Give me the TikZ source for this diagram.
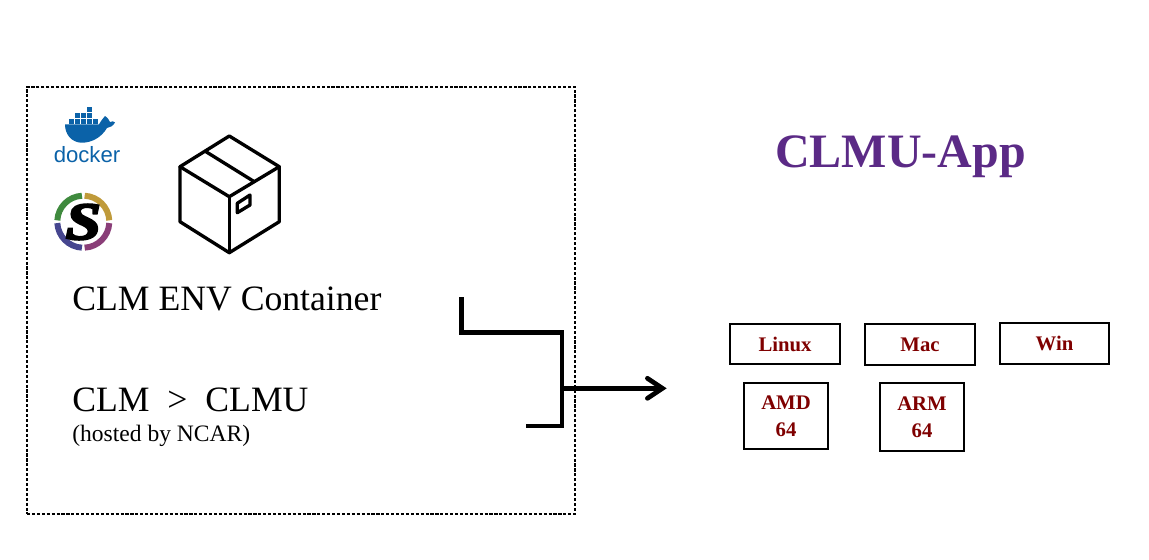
\documentclass[tikz,border=0pt]{standalone}
\usepackage{fontspec}
\setmainfont{Liberation Serif}
\newfontfamily\logofont{Liberation Sans}
\newfontfamily\logoheavy[FakeBold=4]{Liberation Serif}
\usetikzlibrary{arrows.meta}
\definecolor{appPurple}{HTML}{5B2A86}
\definecolor{boxRed}{HTML}{7F0000}
\definecolor{dockerBlue}{HTML}{0B62A8}
\definecolor{ringGreen}{HTML}{3F8A3E}
\definecolor{ringGold}{HTML}{BF9A3A}
\definecolor{ringPlum}{HTML}{8A3E78}
\definecolor{ringBlue}{HTML}{46468F}
\tikzset{
	osbox/.style={draw=black, line width=1.3pt, inner sep=0pt, align=center, text=boxRed, font=\fontsize{11.8}{15.5}\selectfont\bfseries},
	envtext/.style={anchor=base west, inner sep=0pt, font=\fontsize{20.3}{24}\selectfont},
	bracket/.style={line width=2.7pt, line join=miter},
	boxline/.style={line width=1.9pt, line join=round, line cap=round},
}
\begin{document}
\begin{tikzpicture}[x=0.02cm, y=-0.02cm]
	\useasboundingbox (0,0) rectangle (1149,559);
	% environment frame
	\node[draw=black, line width=0.75pt, dash pattern=on 1.8pt off 1pt, minimum width=10.96cm, minimum height=8.54cm, inner sep=0pt] (envframe) at (301,300.5) {};
	% docker logo
	\fill[dockerBlue] (65,124.3)--(99,124.3) .. controls (101,121) and (103,118) .. (105,116) .. controls (108,118) and (109,120) .. (110,122) .. controls (112,121) and (114,121) .. (115,122.5) .. controls (113,126) and (110,127.5) .. (107,128) .. controls (101,138) and (91,143) .. (81,142.7) .. controls (71,142) and (65,134) .. (65,124.3)--cycle;
	\foreach \x in {0,...,4}
		\fill[dockerBlue] (69+5.9*\x,118.5) rectangle ++(5,5);
	\foreach \x in {1,2,3}
		\fill[dockerBlue] (69+5.9*\x,112.6) rectangle ++(5,5);
	\fill[dockerBlue] (69+5.9*3,106.7) rectangle ++(5,5);
	\node[anchor=base, inner sep=0pt, text=dockerBlue, font=\logofont\fontsize{12.6}{14}\selectfont] (dockerlabel) at (87,162.7) {docker};
	% singularity logo
	\coordinate (singularity) at (83.3,221.7);
	\begin{scope}[line width=3.4pt]
		\draw[color=ringGreen] (singularity) ++(-93:26) arc (-93:-177:26);
		\draw[color=ringGold] (singularity) ++(-87:26) arc (-87:-3:26);
		\draw[color=ringPlum] (singularity) ++(3:26) arc (3:87:26);
		\draw[color=ringBlue] (singularity) ++(93:26) arc (93:177:26);
	\end{scope}
	\node[inner sep=0pt, font=\logoheavy\fontsize{30}{30}\selectfont\bfseries\itshape, xscale=1.2] (singularityS) at (83.3,222) {S};
	% package icon
	\draw[boxline] (229.3,136)--(180,166.7)--(229.3,196.7)--(279.3,166.7)--cycle;
	\draw[boxline] (180,166.7)--(180,221.7)--(229.3,252.7)--(279.3,221.7)--(279.3,166.7);
	\draw[boxline] (229.3,196.7)--(229.3,252.7);
	\draw[boxline] (206,151.7)--(254,181.5);
	\draw[boxline] (237.3,203.3)--(250,195)--(250,205)--(237.3,212.7)--cycle;
	% left labels
	\node[envtext] (envlabel) at (72,310) {CLM ENV Container};
	\node[envtext] (clmlabel) at (72,411) {CLM\ \ >\ \ CLMU};
	\node[envtext, font=\fontsize{13.4}{16}\selectfont] (hostlabel) at (72,441) {(hosted by NCAR)};
	% bracket and arrow
	\coordinate (envtop) at (461.7,297);
	\coordinate (envbend) at (461.7,332.7);
	\coordinate (joinA) at (562,332.7);
	\coordinate (joinB) at (562,426);
	\coordinate (clmend) at (525.7,426);
	\coordinate (joinC) at (562,388.3);
	\coordinate (apptip) at (666.7,388.3);
	\draw[bracket] (envtop)--(envbend)--(joinA)--(joinB)--(clmend);
	\draw[bracket, -{Straight Barb[length=3mm, width=4mm, line cap=round, line join=miter]}] (joinC)--(apptip);
	% app side
	\node[anchor=base, inner sep=0pt, text=appPurple, font=\fontsize{27.3}{30}\selectfont\bfseries] (applabel) at (900.5,167) {CLMU-App};
	\node[osbox, minimum width=2.2cm, minimum height=0.8cm] (linux) at (785,344) {Linux};
	\node[osbox, minimum width=2.2cm, minimum height=0.82cm] (mac) at (920,344.5) {Mac};
	\node[osbox, minimum width=2.18cm, minimum height=0.82cm] (win) at (1054.5,343.5) {Win};
	\node[osbox, minimum width=1.68cm, minimum height=1.32cm] (amd) at (786,416) {AMD\\64};
	\node[osbox, minimum width=1.68cm, minimum height=1.36cm] (arm) at (922,417) {ARM\\64};
\end{tikzpicture}
\end{document}
